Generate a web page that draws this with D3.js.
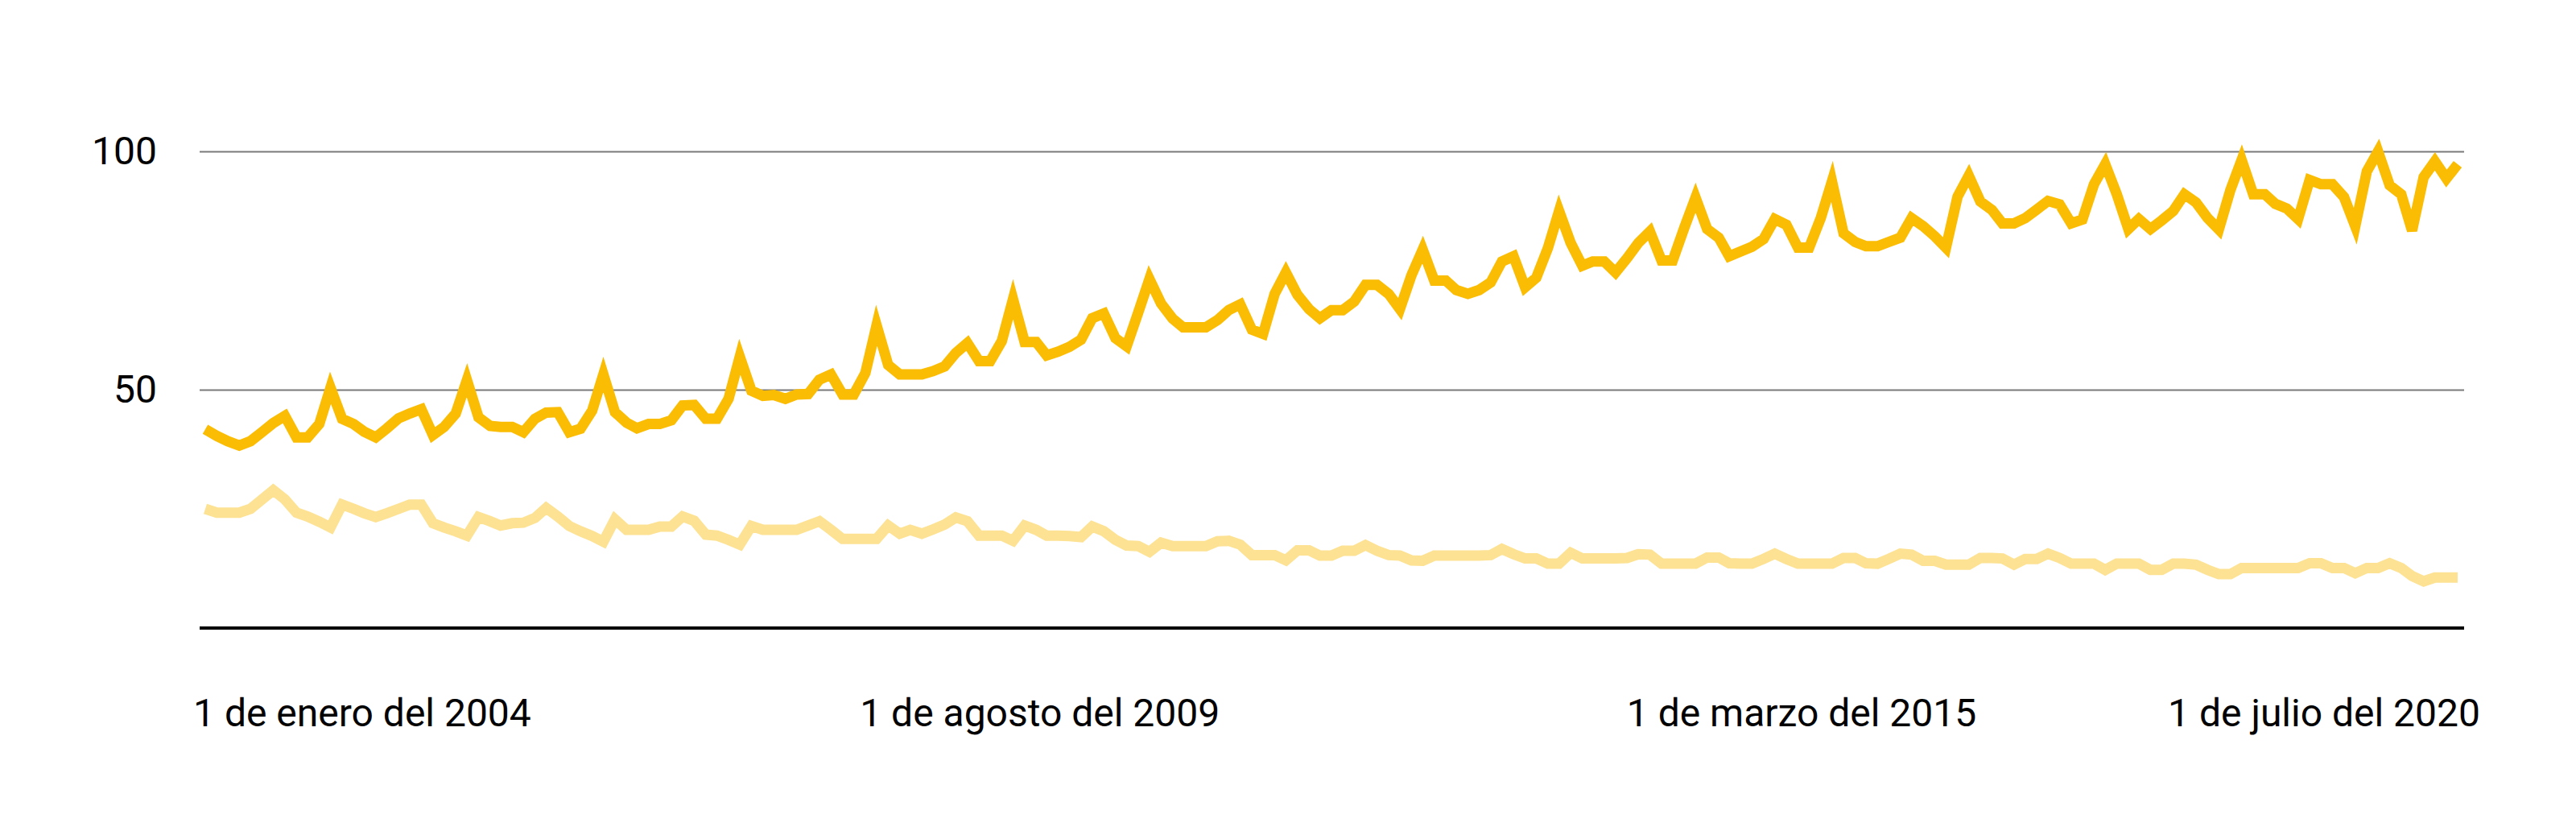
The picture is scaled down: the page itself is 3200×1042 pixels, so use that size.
<!DOCTYPE html>
<html>
<head>
<meta charset="utf-8">
<script src="https://cdn.jsdelivr.net/npm/d3@7"></script>
<style>
  html, body { margin: 0; padding: 0; background: #ffffff; }
  svg { display: block; }
</style>
</head>
<body>
<svg id="chart" width="3200" height="1042"></svg>
<script>
// ---------- data ----------
const startMonth = "2004-01";
const endMonth = "2020-07";

// main (dark yellow) series, monthly Jan 2004 - Jul 2020
const seriesMain = [
  41.7,40.3,39.2,38.3,39.2,41.1,43.0,44.5,40.0,40.0,42.8,50.4,43.9,42.8,41.2,40.0,41.9,44.0,45.0,45.9,40.5,42.2,45.0,52.0,44.2,42.4,
  42.2,42.2,41.1,43.9,45.2,45.3,41.1,41.8,45.6,53.2,45.3,43.1,41.9,42.8,42.8,43.6,46.7,46.8,43.9,43.9,48.1,56.9,49.8,48.7,48.9,48.1,
  49.0,49.1,52.1,53.2,49.0,49.0,53.5,63.5,55.2,53.2,53.2,53.2,53.9,54.9,57.7,59.8,56.0,56.0,60.2,69.0,60.0,60.0,57.2,58.0,59.0,60.5,
  65.0,66.0,60.8,59.1,66.2,73.2,68.1,64.9,63.1,63.1,63.1,64.6,66.7,67.9,62.6,61.7,70.1,74.6,69.9,66.9,65.0,66.7,66.7,68.5,72.0,72.0,
  70.1,66.9,74.0,79.4,72.9,72.9,70.9,70.1,70.9,72.5,76.9,78.0,71.5,73.5,79.7,87.5,80.8,76.0,76.9,76.9,74.6,77.6,80.8,83.2,77.1,77.1,
  84.0,90.3,83.7,81.9,78.0,79.0,80.0,81.6,85.8,84.6,79.8,79.8,86.0,93.7,82.8,81.0,80.1,80.1,81.0,81.9,86.0,84.3,82.2,79.8,90.5,94.9,
  89.5,87.7,84.9,84.9,86.0,87.8,89.6,88.9,84.9,85.7,93.1,97.3,91.0,83.7,85.8,83.7,85.5,87.5,91.0,89.3,86.0,83.6,91.9,98.2,91.0,91.0,
  89.0,88.0,85.8,94.0,93.1,93.1,90.4,84.3,95.8,100,92.9,91.0,83.4,94.6,97.9,94.3,97.3
];

// secondary (light yellow) series
const seriesSecondary = [
  25.0,24.2,24.2,24.2,25.0,27.0,28.9,27.0,24.2,23.4,22.3,21.1,25.9,25.0,24.1,23.3,24.1,25.0,25.9,25.9,22.0,21.1,20.3,19.4,23.3,22.4,
  21.5,22.0,22.1,23.1,25.2,23.4,21.4,20.3,19.3,18.1,22.8,20.6,20.6,20.6,21.3,21.3,23.4,22.5,19.6,19.4,18.5,17.5,21.4,20.6,20.6,20.6,
  20.6,21.5,22.4,20.6,18.7,18.7,18.7,18.7,21.5,19.8,20.6,19.8,20.7,21.7,23.2,22.4,19.4,19.4,19.4,18.3,21.5,20.6,19.4,19.4,19.3,19.1,
  21.3,20.3,18.5,17.3,17.2,16.0,17.9,17.2,17.2,17.2,17.2,18.2,18.3,17.5,15.3,15.3,15.3,14.2,16.3,16.3,15.2,15.2,16.2,16.2,17.4,16.2,
  15.3,15.2,14.2,14.1,15.2,15.2,15.2,15.2,15.2,15.3,16.6,15.5,14.6,14.6,13.5,13.5,15.8,14.6,14.6,14.6,14.6,14.7,15.5,15.4,13.5,13.5,
  13.5,13.5,14.8,14.8,13.6,13.5,13.5,14.5,15.6,14.5,13.5,13.5,13.5,13.5,14.7,14.7,13.6,13.5,14.5,15.6,15.4,14.1,14.1,13.3,13.3,13.3,
  14.7,14.7,14.6,13.3,14.5,14.5,15.6,14.7,13.5,13.5,13.5,12.2,13.5,13.5,13.5,12.2,12.2,13.5,13.5,13.3,12.2,11.3,11.3,12.6,12.6,12.6,
  12.6,12.6,12.6,13.6,13.6,12.6,12.6,11.5,12.6,12.6,13.6,12.6,10.9,9.8,10.6,10.6,10.6
];

const yTicks = [50, 100];
const xTickDates = ["2004-01", "2009-08", "2015-03", "2020-07"];
const xTickLabels = [
  "1 de enero del 2004",
  "1 de agosto del 2009",
  "1 de marzo del 2015",
  "1 de julio del 2020"
];

// ---------- layout ----------
const plotLeft = 248, plotRight = 3061;
const lineLeft = 255, lineRight = 3053;
const yTop = 188, yBottom = 780;
const FONT = "Roboto, 'Noto Sans', Arial, sans-serif";
const COLOR_MAIN = "#FBBC04";
const COLOR_SECOND = "#FDE293";

const parse = d3.utcParse("%Y-%m");
const months = d3.utcMonth.range(parse(startMonth), d3.utcMonth.offset(parse(endMonth), 1));

const x = d3.scaleUtc()
  .domain([months[0], months[months.length - 1]])
  .range([lineLeft, lineRight]);
const y = d3.scaleLinear().domain([0, 100]).range([yBottom, yTop]);

const svg = d3.select("#chart");
svg.append("rect").attr("width", 3200).attr("height", 1042).attr("fill", "#ffffff");

// y axis with gridlines
const yAxis = d3.axisLeft(y)
  .tickValues(yTicks)
  .tickSize(-(plotRight - plotLeft))
  .tickPadding(53)
  .tickFormat(d3.format("d"));

const gy = svg.append("g")
  .attr("transform", `translate(${plotLeft},0)`)
  .call(yAxis);
gy.select(".domain").remove();
gy.selectAll(".tick line").attr("stroke", "#7a7a7a").attr("stroke-width", 2);
gy.selectAll(".tick text")
  .attr("font-family", FONT)
  .attr("font-size", 48)
  .attr("fill", "#000000");

// lines
const line = d3.line()
  .x((d, i) => x(months[i]))
  .y(d => y(d));

svg.append("path")
  .datum(seriesSecondary)
  .attr("fill", "none")
  .attr("stroke", COLOR_SECOND)
  .attr("stroke-width", 13)
  .attr("stroke-linejoin", "miter")
  .attr("stroke-linecap", "butt")
  .attr("d", line);

svg.append("path")
  .datum(seriesMain)
  .attr("fill", "none")
  .attr("stroke", COLOR_MAIN)
  .attr("stroke-width", 13)
  .attr("stroke-linejoin", "miter")
  .attr("stroke-linecap", "butt")
  .attr("d", line);

// baseline
svg.append("line")
  .attr("x1", plotLeft).attr("x2", plotRight)
  .attr("y1", y(0)).attr("y2", y(0))
  .attr("stroke", "#000000")
  .attr("stroke-width", 4);

// x labels
const labelY = 902;
const n = xTickDates.length;
svg.append("g")
  .selectAll("text")
  .data(xTickDates)
  .join("text")
  .attr("x", (d, i) => {
    const px = x(parse(d));
    if (i === 0) return plotLeft - 8;
    if (i === n - 1) return px + 28;
    return px + 90;
  })
  .attr("y", labelY)
  .attr("text-anchor", (d, i) => i === 0 ? "start" : (i === n - 1 ? "end" : "middle"))
  .attr("font-family", FONT)
  .attr("font-size", 48)
  .attr("fill", "#000000")
  .text((d, i) => xTickLabels[i]);
</script>
</body>
</html>
